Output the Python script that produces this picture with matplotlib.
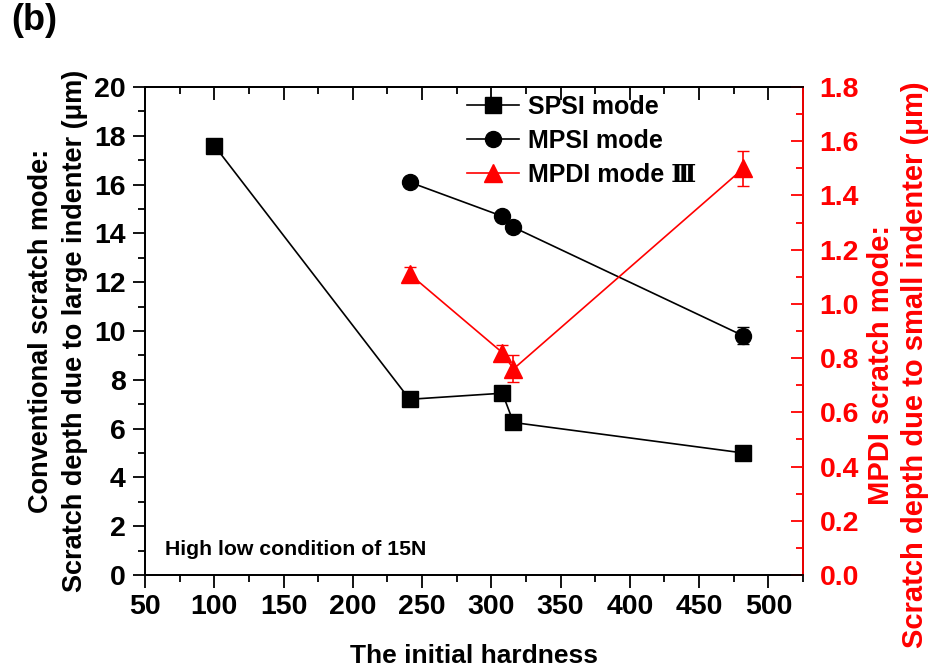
import matplotlib
matplotlib.use("Agg")
import matplotlib.pyplot as plt
from matplotlib.ticker import MultipleLocator

plt.rcParams['font.family'] = ['Liberation Sans', 'DejaVu Serif']
plt.rcParams['font.weight'] = 'bold'

# data
spsi_x = [100, 241, 308, 316, 482]
spsi_y = [17.6, 7.2, 7.45, 6.25, 5.0]
spsi_err = [0.05, 0.05, 0.05, 0.05, 0.05]

mpsi_x = [241, 308, 316, 482]
mpsi_y = [16.1, 14.7, 14.25, 9.8]
mpsi_err = [0.05, 0.05, 0.05, 0.35]

mpdi_x = [241, 308, 316, 482]
mpdi_y = [1.11, 0.82, 0.76, 1.50]
mpdi_err = [0.025, 0.03, 0.05, 0.065]

fig = plt.figure(figsize=(9.32, 6.7), dpi=100)
ax = fig.add_axes([0.1556, 0.1418, 0.706, 0.7284])
ax2 = ax.twinx()

e1 = ax.errorbar(spsi_x, spsi_y, yerr=spsi_err, color='black', marker='s', markersize=11,
                 lw=1.2, capsize=4)
e2 = ax.errorbar(mpsi_x, mpsi_y, yerr=mpsi_err, color='black', marker='o', markersize=11.5,
                 lw=1.2, capsize=4)
e3 = ax2.errorbar(mpdi_x, mpdi_y, yerr=mpdi_err, color='red', marker='^', markersize=13.5,
                  lw=1.2, capsize=4)

ax.set_xlim(50, 525)
ax.set_ylim(0, 20)
ax2.set_ylim(0, 1.8)

ax.xaxis.set_major_locator(MultipleLocator(50))
ax.xaxis.set_minor_locator(MultipleLocator(25))
ax.yaxis.set_major_locator(MultipleLocator(2))
ax.yaxis.set_minor_locator(MultipleLocator(1))
ax2.yaxis.set_major_locator(MultipleLocator(0.2))
ax2.yaxis.set_minor_locator(MultipleLocator(0.1))

# bottom/left ticks outward
ax.tick_params(axis='both', which='both', direction='out', labelsize=20.5, pad=5)
ax.tick_params(axis='both', which='major', length=9, width=1.3)
ax.tick_params(axis='both', which='minor', length=5, width=1.3)

# top ticks inward
top = ax.secondary_xaxis('top')
top.xaxis.set_major_locator(MultipleLocator(50))
top.xaxis.set_minor_locator(MultipleLocator(25))
top.tick_params(which='both', direction='in', labeltop=False, width=1.3)
top.tick_params(which='major', length=9)
top.tick_params(which='minor', length=5)
top.spines['top'].set_linewidth(1.3)

# right axis in red, ticks inward
ax2.tick_params(axis='y', which='both', direction='in', colors='red', labelsize=20.5, pad=12)
ax2.tick_params(axis='y', which='major', length=9, width=1.3)
ax2.tick_params(axis='y', which='minor', length=5, width=1.3)
ax2.yaxis.set_major_formatter(plt.FuncFormatter(lambda v, p: f'{v:.1f}'))

for s in ax.spines.values():
    s.set_linewidth(1.3)
for s in ax2.spines.values():
    s.set_linewidth(1.3)
ax2.spines['right'].set_color('red')

ax.set_xlabel('The initial hardness', fontsize=19, fontweight='bold', labelpad=17)
ax.set_ylabel('Conventional scratch mode:\nScratch depth due to large indenter (μm)',
              fontsize=19.5, fontweight='bold', labelpad=4, linespacing=1.4)
# right label sits a bit lower than the axes centre and is a little larger
fig.text(0.9635, 0.455, 'MPDI scratch mode:\nScratch depth due to small indenter (μm)',
         fontsize=21, fontweight='bold', color='red', rotation=90,
         ha='center', va='center', multialignment='center', linespacing=1.25)

ax.text(0.03, 0.052, 'High low condition of 15N', transform=ax.transAxes,
        fontsize=15.3, fontweight='bold', va='center')
fig.text(0.012, 0.995, '(b)', fontsize=26, fontweight='bold', va='top')

handles = [e1.lines[0], e2.lines[0], e3.lines[0]]
labels = ['SPSI mode', 'MPSI mode', 'MPDI mode Ⅲ']
ax.legend(handles, labels, loc='upper left', bbox_to_anchor=(0.489, 0.984),
          frameon=False, handlelength=2.1, handletextpad=0.35, labelspacing=0.4,
          borderpad=0, borderaxespad=0,
          prop={'family': ['Liberation Sans', 'DejaVu Serif'], 'weight': 'bold', 'size': 18})

fig.savefig('out.png', dpi=100)
